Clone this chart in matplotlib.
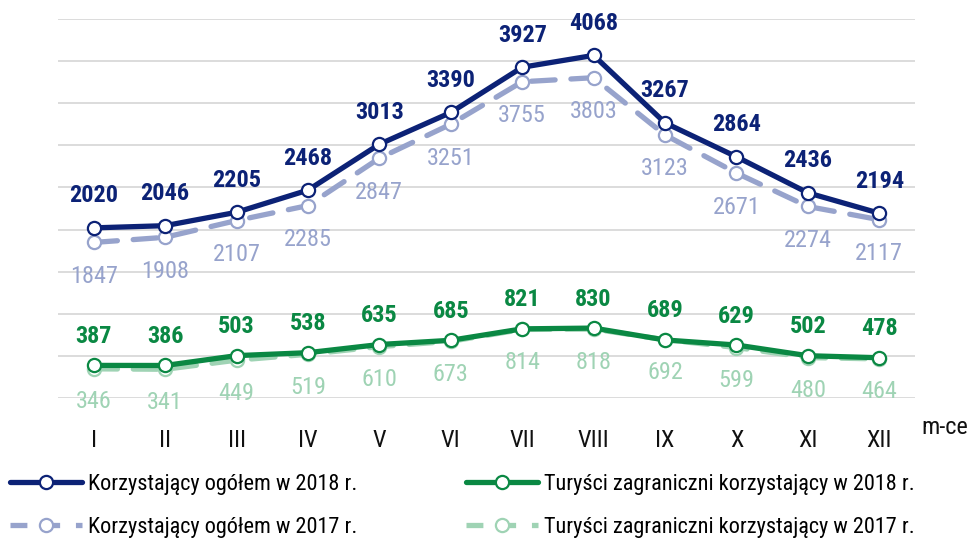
import matplotlib
matplotlib.use("Agg")
import matplotlib.pyplot as plt
from matplotlib.lines import Line2D
from matplotlib import font_manager as fm

months = ["I", "II", "III", "IV", "V", "VI", "VII", "VIII", "IX", "X", "XI", "XII"]
total_2018 = [2020, 2046, 2205, 2468, 3013, 3390, 3927, 4068, 3267, 2864, 2436, 2194]
total_2017 = [1847, 1908, 2107, 2285, 2847, 3251, 3755, 3803, 3123, 2671, 2274, 2117]
foreign_2018 = [387, 386, 503, 538, 635, 685, 821, 830, 689, 629, 502, 478]
foreign_2017 = [346, 341, 449, 519, 610, 673, 814, 818, 692, 599, 480, 464]
labels = ["Korzystający ogółem w 2018 r.", "Korzystający ogółem w 2017 r.",
          "Turyści zagraniczni korzystający w 2018 r.", "Turyści zagraniczni korzystający w 2017 r."]

fam = "DejaVu Sans"
for cand in ["Liberation Sans Narrow", "Roboto Condensed", "Open Sans Condensed"]:
    try:
        fm.findfont(cand, fallback_to_default=False)
        fam = cand
        break
    except Exception:
        pass
plt.rcParams['font.family'] = [fam, 'DejaVu Sans']

NAVY = "#0c2276"
NAVY_L = "#97a3cc"
GREEN = "#0a8843"
GREEN_L = "#9fd3b4"

fig = plt.figure(figsize=(9.71, 5.39), dpi=100)
ax = fig.add_axes([58/971, 1-398/539, (915-58)/971, (398-19)/539])
x = list(range(len(months)))

lw = 3.8
ms = 9.5
mew = 1.6
ax.plot(x, total_2017, color=NAVY_L, lw=lw, dashes=(4.5, 3), dash_capstyle='round',
        marker='o', ms=ms, mfc='white', mec=NAVY_L, mew=mew, zorder=3)
ax.plot(x, total_2018, color=NAVY, lw=lw, solid_capstyle='round',
        marker='o', ms=ms, mfc='white', mec=NAVY, mew=mew, zorder=4)
ax.plot(x, foreign_2017, color=GREEN_L, lw=lw, dashes=(4.5, 3), dash_capstyle='round',
        marker='o', ms=ms, mfc='white', mec=GREEN_L, mew=mew, zorder=3)
ax.plot(x, foreign_2018, color=GREEN, lw=lw, solid_capstyle='round',
        marker='o', ms=ms, mfc='white', mec=GREEN, mew=mew, zorder=4)

fs_num = 17.5
for i in x:
    ax.annotate(str(total_2018[i]), (i, total_2018[i]), xytext=(0, 32), textcoords='offset pixels',
                ha='center', va='center', fontsize=fs_num, fontweight='bold', color=NAVY)
    ax.annotate(str(total_2017[i]), (i, total_2017[i]), xytext=(0, -34), textcoords='offset pixels',
                ha='center', va='center', fontsize=fs_num, color=NAVY_L)
    ax.annotate(str(foreign_2018[i]), (i, foreign_2018[i]), xytext=(0, 29), textcoords='offset pixels',
                ha='center', va='center', fontsize=fs_num, fontweight='bold', color=GREEN)
    ax.annotate(str(foreign_2017[i]), (i, foreign_2017[i]), xytext=(0, -33), textcoords='offset pixels',
                ha='center', va='center', fontsize=fs_num, color=GREEN_L)

ax.set_xlim(-0.5, 11.5)
ax.set_ylim(0, 4500)
ax.set_yticks(range(0, 4501, 500))
ax.yaxis.grid(True, color="#d9d9d9", lw=1.3)
ax.set_axisbelow(True)
ax.tick_params(axis='y', left=False, labelleft=False)
ax.set_xticks(x)
ax.set_xticklabels(months, fontsize=17.5, color="#111111")
ax.tick_params(axis='x', bottom=False, pad=19)
for s in ax.spines.values():
    s.set_visible(False)

fig.text(945/971, 1-428/539, "m-ce", ha='center', va='center', fontsize=17.5, color="#111111")

handles = [
    Line2D([], [], color=NAVY, lw=lw, marker='o', ms=ms, mfc='white', mec=NAVY, mew=mew, solid_capstyle='round'),
    Line2D([], [], color=NAVY_L, lw=lw, dashes=(3.2, 3.0), marker='o', ms=ms, mfc='white', mec=NAVY_L, mew=mew),
    Line2D([], [], color=GREEN, lw=lw, marker='o', ms=ms, mfc='white', mec=GREEN, mew=mew, solid_capstyle='round'),
    Line2D([], [], color=GREEN_L, lw=lw, dashes=(3.2, 3.0), marker='o', ms=ms, mfc='white', mec=GREEN_L, mew=mew),
]
fig.legend(handles, labels, ncol=2, loc='upper left', bbox_to_anchor=(10/971, 1-474/539),
           frameon=False, fontsize=16, handlelength=3.25, handletextpad=0.25,
           columnspacing=4.9, labelspacing=1.0, borderpad=0, borderaxespad=0)

fig.savefig("out.png", dpi=100)
